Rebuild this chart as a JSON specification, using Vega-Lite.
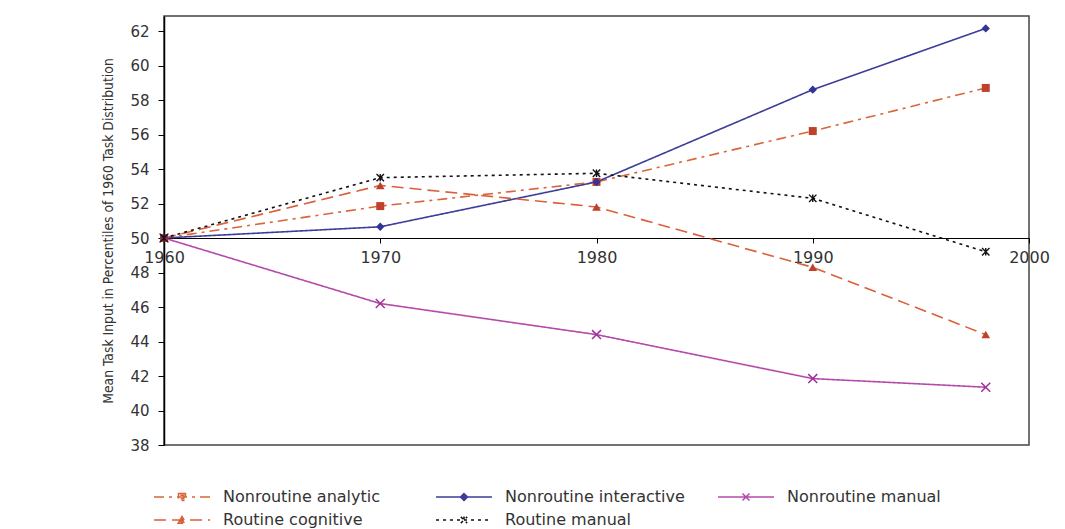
{
  "$schema": "https://vega.github.io/schema/vega-lite/v6.json",
  "autosize": {"type": "none"},
  "width": 865,
  "height": 429,
  "padding": {"left": 164, "top": 16, "right": 36, "bottom": 84},
  "background": "white",
  "config": {"view": {"stroke": "#444", "strokeWidth": 1.5}, "font": "DejaVu Sans", "axisY": {"labelOverlap": false}, "axisX": {"labelOverlap": false}},
  "data": {
    "values": [
      {"series": "Nonroutine analytic", "year": 1960, "value": 50},
      {"series": "Nonroutine analytic", "year": 1970, "value": 51.85},
      {"series": "Nonroutine analytic", "year": 1980, "value": 53.25},
      {"series": "Nonroutine analytic", "year": 1990, "value": 56.2},
      {"series": "Nonroutine analytic", "year": 1998, "value": 58.7},
      {"series": "Nonroutine interactive", "year": 1960, "value": 50},
      {"series": "Nonroutine interactive", "year": 1970, "value": 50.65},
      {"series": "Nonroutine interactive", "year": 1980, "value": 53.25},
      {"series": "Nonroutine interactive", "year": 1990, "value": 58.6},
      {"series": "Nonroutine interactive", "year": 1998, "value": 62.15},
      {"series": "Nonroutine manual", "year": 1960, "value": 50},
      {"series": "Nonroutine manual", "year": 1970, "value": 46.2},
      {"series": "Nonroutine manual", "year": 1980, "value": 44.4},
      {"series": "Nonroutine manual", "year": 1990, "value": 41.85},
      {"series": "Nonroutine manual", "year": 1998, "value": 41.35},
      {"series": "Routine cognitive", "year": 1960, "value": 50},
      {"series": "Routine cognitive", "year": 1970, "value": 53.05},
      {"series": "Routine cognitive", "year": 1980, "value": 51.8},
      {"series": "Routine cognitive", "year": 1990, "value": 48.3},
      {"series": "Routine cognitive", "year": 1998, "value": 44.4},
      {"series": "Routine manual", "year": 1960, "value": 50},
      {"series": "Routine manual", "year": 1970, "value": 53.5},
      {"series": "Routine manual", "year": 1980, "value": 53.75},
      {"series": "Routine manual", "year": 1990, "value": 52.3},
      {"series": "Routine manual", "year": 1998, "value": 49.2}
    ]
  },
  "encoding": {
    "x": {
      "field": "year", "type": "quantitative",
      "scale": {"domain": [1960, 2000], "nice": false, "zero": false},
      "axis": {
        "values": [1960, 1970, 1980, 1990, 2000], "format": "d", "title": null,
        "offset": -207, "grid": false, "labelFlush": false, "labelOverlap": false,
        "labelFont": "DejaVu Sans", "labelFontSize": 16, "labelColor": "#333",
        "tickSize": 5, "tickColor": "#000", "domainColor": "#000", "domainWidth": 1, "labelPadding": 6
      }
    },
    "y": {
      "field": "value", "type": "quantitative",
      "scale": {"domain": [38, 62.87], "nice": false, "zero": false},
      "axis": {
        "values": [38, 40, 42, 44, 46, 48, 50, 52, 54, 56, 58, 60, 62],
        "labelOverlap": false,
        "title": "Mean Task Input in Percentiles of 1960 Task Distribution",
        "titleFont": "Liberation Sans Narrow, DejaVu Sans Condensed, Liberation Sans", "titleFontSize": 13.8,
        "titleFontWeight": "normal", "titleColor": "#333", "titlePadding": 14,
        "labelFont": "DejaVu Sans", "labelFontSize": 15, "labelColor": "#333", "labelPadding": 9,
        "tickSize": 6, "tickColor": "#000", "domainColor": "#000", "domainWidth": 1.5, "grid": false
      }
    }
  },
  "layer": [
    {
      "mark": {"type": "line", "strokeWidth": 1.6},
      "encoding": {
        "stroke": {
          "field": "series", "type": "nominal",
          "scale": {
            "domain": ["Nonroutine analytic", "Nonroutine interactive", "Nonroutine manual", "Routine cognitive", "Routine manual"],
            "range": ["#d9653a", "#3c3c99", "#b44bab", "#d9603a", "#111111"]
          },
          "legend": {
            "title": null, "orient": "none", "direction": "horizontal", "legendX": -11, "legendY": 473, "columns": 3, "gridAlign": "all",
            "columnPadding": 30, "rowPadding": 7, "symbolSize": 196, "symbolStrokeWidth": 1.5, "symbolOffset": 0, "symbolOpacity": 1,
            "labelOffset": 54, "labelFont": "DejaVu Sans", "labelFontSize": 16, "labelColor": "#333", "labelLimit": 400
          }
        },
        "strokeDash": {
          "field": "series", "type": "nominal",
          "scale": {
            "domain": ["Nonroutine analytic", "Nonroutine interactive", "Nonroutine manual", "Routine cognitive", "Routine manual"],
            "range": [[10, 5, 3, 5], [1, 0], [1, 0], [12, 6], [3, 4]]
          },
          "legend": null
        }
      }
    },
    {
      "transform": [{"filter": "datum.series === 'Nonroutine analytic'"}],
      "mark": {"type": "point", "shape": "square", "filled": true, "color": "#c0412b", "size": 64, "opacity": 1}
    },
    {
      "transform": [{"filter": "datum.series === 'Nonroutine interactive'"}],
      "mark": {"type": "point", "shape": "diamond", "filled": true, "color": "#333399", "size": 70, "opacity": 1}
    },
    {
      "transform": [{"filter": "datum.series === 'Nonroutine manual'"}],
      "mark": {"type": "point", "shape": "M-1,-1L1,1M-1,1L1,-1", "filled": false, "color": "#a0309a", "strokeWidth": 1.5, "size": 80, "opacity": 1}
    },
    {
      "transform": [{"filter": "datum.series === 'Routine cognitive'"}],
      "mark": {"type": "point", "shape": "triangle-up", "filled": true, "color": "#c0412b", "size": 75, "opacity": 1}
    },
    {
      "transform": [{"filter": "datum.series === 'Routine manual'"}],
      "mark": {"type": "point", "shape": "M-1,-1L1,1M-1,1L1,-1M0,-1V1", "filled": false, "color": "#111111", "strokeWidth": 1.4, "size": 55, "opacity": 1}
    },
    {
      "transform": [{"filter": "datum.year < 0"}],
      "mark": {"type": "point", "filled": false, "strokeWidth": 1.5, "opacity": 1},
      "encoding": {
        "stroke": {"field": "series", "type": "nominal"},
        "shape": {
          "field": "series", "type": "nominal",
          "scale": {
            "domain": ["Nonroutine analytic", "Nonroutine interactive", "Nonroutine manual", "Routine cognitive", "Routine manual"],
            "range": [
              "M-1,0H7M2.5,-0.5H3.5V0.5H2.5ZM2.75,-0.25H3.25V0.25H2.75Z",
              "M-1,0H7M3,-0.5L3.5,0L3,0.5L2.5,0ZM3,-0.25L3.25,0L3,0.25L2.75,0Z",
              "M-1,0H7M2.5,-0.5L3.5,0.5M2.5,0.5L3.5,-0.5",
              "M-1,0H7M2.45,0.45L3,-0.5L3.55,0.45ZM2.75,0.3L3,-0.1L3.25,0.3Z",
              "M-1,0H7M2.55,-0.45L3.45,0.45M2.55,0.45L3.45,-0.45M3,-0.5V0.5"
            ]
          },
          "legend": {
            "title": null, "orient": "none", "direction": "horizontal", "legendX": -11, "legendY": 473, "columns": 3, "gridAlign": "all",
            "columnPadding": 30, "rowPadding": 7, "symbolSize": 196, "symbolStrokeWidth": 1.5, "symbolOffset": 0, "symbolOpacity": 1,
            "labelOffset": 54, "labelFont": "DejaVu Sans", "labelFontSize": 16, "labelColor": "#333", "labelLimit": 400
          }
        }
      }
    }
  ]
}
